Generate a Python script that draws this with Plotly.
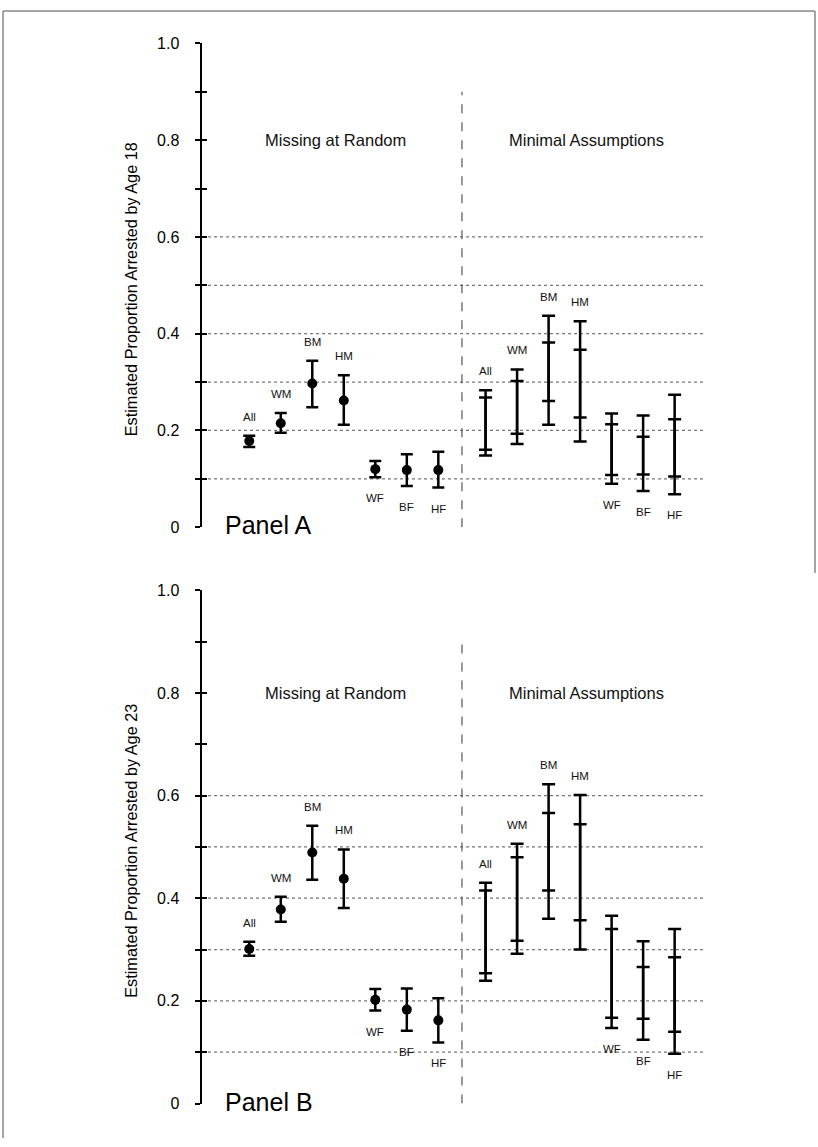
import plotly.graph_objects as go

groups = ["All", "WM", "BM", "HM", "WF", "BF", "HF"]
label_above = [True, True, True, True, False, False, False]

# Panel A: arrested by age 18
a_mar_est = [0.178, 0.215, 0.297, 0.262, 0.120, 0.118, 0.118]
a_mar_hi = [0.189, 0.236, 0.344, 0.314, 0.137, 0.151, 0.156]
a_mar_lo = [0.166, 0.195, 0.248, 0.212, 0.103, 0.085, 0.082]
a_ma_outer_hi = [0.283, 0.326, 0.437, 0.426, 0.235, 0.231, 0.274]
a_ma_inner_hi = [0.268, 0.302, 0.382, 0.367, 0.213, 0.187, 0.223]
a_ma_inner_lo = [0.160, 0.193, 0.261, 0.227, 0.108, 0.109, 0.105]
a_ma_outer_lo = [0.148, 0.172, 0.212, 0.177, 0.090, 0.075, 0.068]

# Panel B: arrested by age 23
b_mar_est = [0.301, 0.378, 0.489, 0.438, 0.202, 0.183, 0.162]
b_mar_hi = [0.315, 0.403, 0.541, 0.495, 0.223, 0.224, 0.205]
b_mar_lo = [0.288, 0.354, 0.436, 0.381, 0.181, 0.142, 0.119]
b_ma_outer_hi = [0.430, 0.506, 0.622, 0.601, 0.366, 0.316, 0.340]
b_ma_inner_hi = [0.415, 0.480, 0.566, 0.544, 0.340, 0.266, 0.285]
b_ma_inner_lo = [0.254, 0.317, 0.415, 0.357, 0.167, 0.165, 0.140]
b_ma_outer_lo = [0.239, 0.292, 0.360, 0.300, 0.147, 0.124, 0.097]

y_titles = ["Estimated Proportion Arrested by Age 18", "Estimated Proportion Arrested by Age 23"]
panel_names = ["Panel A", "Panel B"]
section_names = ["Missing at Random", "Minimal Assumptions"]
tick_vals = [0, 0.2, 0.4, 0.6, 0.8, 1.0]
tick_text = ["0", "0.2", "0.4", "0.6", "0.8", "1.0"]
grid_vals = [0.1, 0.2, 0.3, 0.4, 0.5, 0.6]

FONT = "Arial, Liberation Sans, Helvetica, sans-serif"
W, H = 818, 1147

mar_x = [i + 1 for i in range(len(groups))]
ma_x = [i + 8.5 for i in range(len(groups))]
divider_x = 7.75
x_range = [-0.5, 15.4]
x_dom = [202 / W, 703 / W]

# panel pixel geometry (y of value 0 and value 1, from top)
panels = [
    dict(y0px=527, y1px=36,
         mar=(a_mar_est, a_mar_hi, a_mar_lo),
         ma=(a_ma_outer_hi, a_ma_inner_hi, a_ma_inner_lo, a_ma_outer_lo)),
    dict(y0px=1112, y1px=591,
         mar=(b_mar_est, b_mar_hi, b_mar_lo),
         ma=(b_ma_outer_hi, b_ma_inner_hi, b_ma_inner_lo, b_ma_outer_lo)),
]

fig = go.Figure()
shapes = []
annotations = []
layout_axes = {}

for p, panel in enumerate(panels):
    xa = "x" if p == 0 else "x2"
    ya = "y" if p == 0 else "y2"
    yov = "y3" if p == 0 else "y4"
    xkey = "xaxis" if p == 0 else "xaxis2"
    ykey = "yaxis" if p == 0 else "yaxis2"
    yovkey = "yaxis3" if p == 0 else "yaxis4"
    ydom = [(H - panel["y0px"]) / H, (H - panel["y1px"]) / H]

    est, hi, lo = panel["mar"]
    o_hi, i_hi, i_lo, o_lo = panel["ma"]

    # Missing at random: point estimate with error bars
    fig.add_trace(go.Scatter(
        x=mar_x, y=est, mode="markers", xaxis=xa, yaxis=ya,
        marker=dict(color="black", size=10),
        error_y=dict(type="data", symmetric=False,
                     array=[h - e for h, e in zip(hi, est)],
                     arrayminus=[e - l for e, l in zip(est, lo)],
                     color="black", thickness=2.5, width=6),
        showlegend=False, cliponaxis=False, hoverinfo="skip"))

    # Minimal assumptions: outer bounds
    mid_o = [(a + b) / 2 for a, b in zip(o_hi, o_lo)]
    fig.add_trace(go.Scatter(
        x=ma_x, y=mid_o, mode="markers", xaxis=xa, yaxis=ya,
        marker=dict(color="rgba(0,0,0,0)", size=1),
        error_y=dict(type="data", array=[(a - b) / 2 for a, b in zip(o_hi, o_lo)],
                     color="black", thickness=2.5, width=6.5),
        showlegend=False, cliponaxis=False, hoverinfo="skip"))
    # inner bounds
    mid_i = [(a + b) / 2 for a, b in zip(i_hi, i_lo)]
    fig.add_trace(go.Scatter(
        x=ma_x, y=mid_i, mode="markers", xaxis=xa, yaxis=ya,
        marker=dict(color="rgba(0,0,0,0)", size=1),
        error_y=dict(type="data", array=[(a - b) / 2 for a, b in zip(i_hi, i_lo)],
                     color="black", thickness=2.5, width=6.5),
        showlegend=False, cliponaxis=False, hoverinfo="skip"))

    # dummy trace for overlay axis (inside ticks)
    fig.add_trace(go.Scatter(x=[None], y=[None], xaxis=xa, yaxis=yov,
                             showlegend=False, hoverinfo="skip"))

    # group labels
    for xs, tops, bots in ((mar_x, hi, lo), (ma_x, o_hi, o_lo)):
        for g, xv, t, b, above in zip(groups, xs, tops, bots, label_above):
            annotations.append(dict(
                x=xv, y=t if above else b, xref=xa, yref=ya,
                text=g, showarrow=False, yanchor="middle",
                yshift=19 if above else -21,
                font=dict(family=FONT, size=11.5, color="#111")))

    # section titles
    annotations.append(dict(x=3.75, y=0.80, xref=xa, yref=ya, text=section_names[0],
                            showarrow=False, font=dict(family=FONT, size=16.5, color="#111")))
    annotations.append(dict(x=11.7, y=0.80, xref=xa, yref=ya, text=section_names[1],
                            showarrow=False, font=dict(family=FONT, size=16.5, color="#111")))
    # panel name
    annotations.append(dict(x=223 / W, y=0, xref="paper", yref=ya, text=panel_names[p],
                            xanchor="left", yanchor="middle", yshift=2, showarrow=False,
                            font=dict(family=FONT, size=25, color="black")))
    # y title
    annotations.append(dict(x=131 / W, y=0.5 * (ydom[0] + ydom[1]) - 4 / H,
                            xref="paper", yref="paper", text=y_titles[p], textangle=-90,
                            showarrow=False, xanchor="center", yanchor="middle",
                            font=dict(family=FONT, size=16.3, color="black")))

    # dotted gridlines
    for gv in grid_vals:
        shapes.append(dict(type="line", xref=xa + " domain", yref=ya, x0=0, x1=1, y0=gv, y1=gv,
                           line=dict(color="#777", width=1.2, dash="dot"), layer="below"))
    # dashed divider
    shapes.append(dict(type="line", xref=xa, yref=ya, x0=divider_x, x1=divider_x, y0=0, y1=0.9,
                       line=dict(color="#555", width=1.2, dash="dash"), layer="below"))

    layout_axes[xkey] = dict(domain=x_dom, range=x_range, visible=False, anchor=ya,
                             fixedrange=True)
    layout_axes[ykey] = dict(domain=ydom, range=[0, 1], anchor=xa,
                             showline=True, linecolor="black", linewidth=2.5,
                             showgrid=False, zeroline=False,
                             tickmode="array", tickvals=tick_vals, ticktext=tick_text,
                             ticks="outside", ticklen=5, tickwidth=2, tickcolor="black",
                             minor=dict(dtick=0.1, ticks="outside", ticklen=5, tickwidth=2,
                                        tickcolor="black", showgrid=False),
                             tickfont=dict(family=FONT, size=16, color="black"),
                             ticklabelstandoff=12, fixedrange=True)
    layout_axes[yovkey] = dict(overlaying=ya, anchor=xa, range=[0, 1], side="left",
                               showline=False, showgrid=False, zeroline=False,
                               tickmode="linear", tick0=0, dtick=0.1,
                               ticks="inside", ticklen=5, tickwidth=2, tickcolor="black",
                               showticklabels=False, fixedrange=True)

# outer frame
shapes.append(dict(type="line", xref="paper", yref="paper", x0=3 / W, x1=3 / W, y0=0, y1=1 - 3 / H,
                   line=dict(color="#888", width=1.5)))
shapes.append(dict(type="line", xref="paper", yref="paper", x0=3 / W, x1=1 - 3 / W, y0=1 - 3 / H, y1=1 - 3 / H,
                   line=dict(color="#888", width=1.5)))
shapes.append(dict(type="line", xref="paper", yref="paper", x0=1 - 3 / W, x1=1 - 3 / W, y0=0.5, y1=1 - 3 / H,
                   line=dict(color="#888", width=1.5)))

fig.update_layout(
    width=W, height=H,
    margin=dict(l=0, r=0, t=0, b=0),
    paper_bgcolor="white", plot_bgcolor="white",
    showlegend=False, hovermode=False,
    shapes=shapes, annotations=annotations,
    **layout_axes)

fig.write_html("out.html", config={"displayModeBar": False, "staticPlot": True},
               post_script="document.body.style.margin='0';document.body.style.overflow='hidden';")
